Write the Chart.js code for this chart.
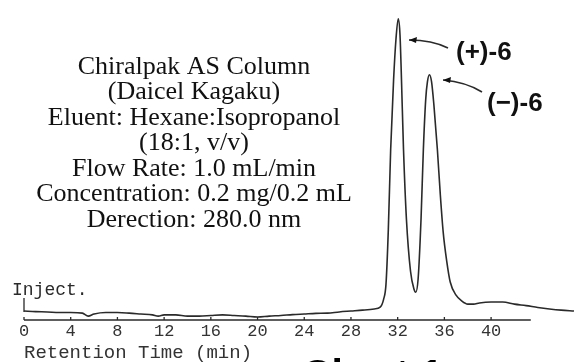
<!DOCTYPE html>
<html>
<head>
<meta charset="utf-8">
<script src="https://cdn.jsdelivr.net/npm/chart.js@4.4.1/dist/chart.umd.min.js"></script>
<style>
  html, body { margin: 0; padding: 0; background: #fff; }
  #wrap { width: 574px; height: 362px; }
</style>
</head>
<body>
<div id="wrap"><canvas id="chromatogram" width="574" height="362"></canvas></div>
<script>
// retention time (min) and detector response (arbitrary units)
const times = [0, 1, 2, 3, 4, 5, 5.5, 6, 7, 8, 9, 10, 11, 11.5, 12, 13, 14, 15, 16, 17, 18, 19, 20, 21, 22, 23, 24, 25, 26, 27, 28, 29, 30, 30.5, 30.8,
  31.0, 31.2, 31.4, 31.65, 31.85, 32.05, 32.2, 32.4, 32.5, 32.75, 33.1, 33.4, 33.55, 33.75, 34.0, 34.2, 34.4, 34.55, 34.72, 34.9, 35.1, 35.4, 35.65,
  35.9, 36.2, 36.5, 37, 37.5, 38, 38.5, 39, 40, 41, 42, 43, 44, 45, 46, 47.1];
const signal = [3.0, 2.8, 2.7, 2.5, 2.5, 2.3, 1.3, 2.0, 2.5, 2.5, 2.3, 2.0, 1.7, 1.3, 1.7, 1.7, 1.3, 1.3, 1.5, 1.7, 1.5, 1.3, 1.0, 1.3, 1.5, 1.8, 2.0, 2.2, 2.3, 2.7, 3.0, 3.3, 3.7, 4.3, 7,
  12, 30.3, 57, 80.3, 93.7, 100.7, 95.3, 70.3, 57, 33.7, 16.3, 10.3, 9.3, 13.7, 33.7, 57, 73.7, 79.7, 82, 79.7, 72, 57, 42,
  29.3, 19.7, 12.7, 8.3, 6.3, 5.3, 5.3, 5.7, 6, 6, 5.3, 4.8, 4.2, 3.7, 3.3, 3.0];

const xTicks = [0, 4, 8, 12, 16, 20, 24, 28, 32, 36, 40];
const axisEnd = 43.4;

const infoLines = [
  'Chiralpak AS Column',
  '(Daicel Kagaku)',
  'Eluent: Hexane:Isopropanol',
  '(18:1, v/v)',
  'Flow Rate: 1.0 mL/min',
  'Concentration: 0.2 mg/0.2 mL',
  'Derection: 280.0 nm'
];
const peakLabels = ['(+)-6', '(\u2212)-6'];

const ink = '#2a2a2a';

// axis line, upward tick marks, text block and arrows
const decor = {
  id: 'decor',
  afterDraw(chart) {
    const ctx = chart.ctx;
    const x = chart.scales.x;
    const base = chart.chartArea.bottom;
    ctx.save();
    ctx.strokeStyle = ink;
    ctx.lineWidth = 1.3;
    ctx.beginPath();
    ctx.moveTo(x.getPixelForValue(0), base);
    ctx.lineTo(x.getPixelForValue(axisEnd), base);
    xTicks.forEach(t => {
      const px = x.getPixelForValue(t);
      ctx.moveTo(px, base);
      ctx.lineTo(px, base - 3);
    });
    // injection mark
    const x0 = x.getPixelForValue(0);
    ctx.moveTo(x0, base - 22);
    ctx.lineTo(x0, base - 8);
    ctx.stroke();

    ctx.fillStyle = ink;
    ctx.font = '18px "Liberation Mono"';
    ctx.textAlign = 'left';
    ctx.textBaseline = 'middle';
    ctx.fillText('Inject.', 12, 290);

    ctx.fillStyle = '#111';
    ctx.font = '26px "Liberation Serif"';
    ctx.textAlign = 'center';
    infoLines.forEach((s, i) => ctx.fillText(s, 194, 67 + i * 25.5));

    ctx.font = 'bold 26px "Liberation Sans"';
    ctx.textAlign = 'left';
    ctx.fillText(peakLabels[0], 456, 53);
    ctx.fillText(peakLabels[1], 487, 104);

    const arrow = (x1, y1, cx, cy, x2, y2) => {
      ctx.beginPath();
      ctx.moveTo(x1, y1);
      ctx.quadraticCurveTo(cx, cy, x2, y2);
      ctx.lineWidth = 1.6;
      ctx.stroke();
      ctx.beginPath();
      ctx.moveTo(x2, y2);
      ctx.lineTo(x2 + 8, y2 - 3);
      ctx.lineTo(x2 + 7, y2 + 3);
      ctx.closePath();
      ctx.fill();
    };
    arrow(448, 48, 432, 40, 409, 40);
    arrow(482, 92, 466, 82, 443, 80);

    ctx.font = 'bold 41px "Liberation Sans"';
    ctx.fillStyle = '#000';
    ctx.textBaseline = 'alphabetic';
    ctx.fillText('Chart 1', 302, 388);
    ctx.restore();
  }
};

new Chart(document.getElementById('chromatogram'), {
  type: 'line',
  data: {
    datasets: [{
      data: times.map((t, i) => ({ x: t, y: signal[i] })),
      borderColor: ink,
      borderWidth: 1.6,
      pointRadius: 0,
      fill: false,
      cubicInterpolationMode: 'monotone'
    }]
  },
  options: {
    responsive: false,
    animation: false,
    layout: { padding: { left: 24, right: 0, top: 6, bottom: 0 } },
    plugins: { legend: { display: false }, tooltip: { enabled: false } },
    scales: {
      x: {
        type: 'linear',
        min: 0,
        max: 47.1,
        border: { display: false },
        grid: { display: false, drawTicks: false },
        afterBuildTicks: scale => { scale.ticks = xTicks.map(v => ({ value: v })); },
        ticks: {
          autoSkip: false,
          maxRotation: 0,
          padding: 3,
          color: '#333',
          font: { family: 'Liberation Mono', size: 17, lineHeight: 1 }
        },
        title: {
          display: true,
          text: 'Retention Time (min)',
          align: 'start',
          color: '#333',
          padding: { top: 0, bottom: 0 },
          font: { family: 'Liberation Mono', size: 19, lineHeight: 1 }
        }
      },
      y: { display: false, min: 0, max: 105 }
    }
  },
  plugins: [decor]
});
</script>
</body>
</html>
